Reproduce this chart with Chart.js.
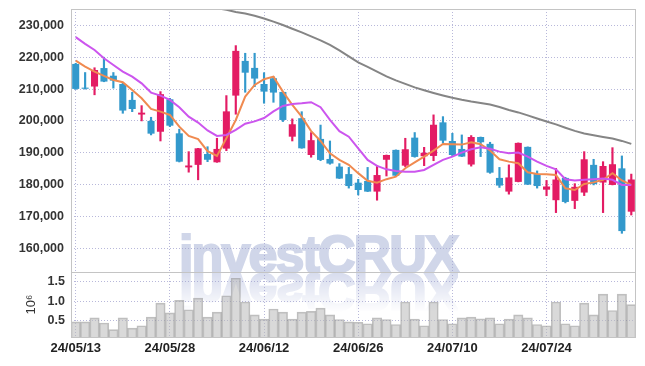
<!DOCTYPE html>
<html><head><meta charset="utf-8">
<script src="https://cdn.jsdelivr.net/npm/chart.js@4.4.1/dist/chart.umd.min.js"></script>
<style>
html,body{margin:0;padding:0;background:#fff;}
#wrap{position:relative;width:645px;height:366px;overflow:hidden;}
canvas{position:absolute;left:0;}
.wm{position:absolute;left:179px;font-family:'Liberation Sans',Arial,sans-serif;font-weight:bold;font-size:52px;line-height:52px;letter-spacing:-1.9px;white-space:nowrap;}
#wm1{top:228px;color:#d0d6e9;-webkit-text-stroke:2px #d0d6e9;}
#wm2{top:266px;color:#d8ddee;-webkit-text-stroke:2px #d8ddee;transform:scaleY(-1);-webkit-mask-image:linear-gradient(to top,rgba(0,0,0,1) 15%,rgba(0,0,0,0) 90%);mask-image:linear-gradient(to top,rgba(0,0,0,1) 15%,rgba(0,0,0,0) 90%);}
</style></head>
<body><div id="wrap">
<div class="wm" id="wm1">investCRUX</div>
<div class="wm" id="wm2">investCRUX</div>
<canvas id="main" width="645" height="274" style="top:0"></canvas>
<canvas id="vol" width="645" height="94" style="top:272px"></canvas>
</div>
<script>
const dates = ['24/05/13','24/05/14','24/05/16','24/05/17','24/05/20','24/05/21','24/05/22','24/05/23','24/05/24','24/05/27',
'24/05/28','24/05/29','24/05/30','24/05/31','24/06/03','24/06/04','24/06/05','24/06/07','24/06/10','24/06/11',
'24/06/12','24/06/13','24/06/14','24/06/17','24/06/18','24/06/19','24/06/20','24/06/21','24/06/24','24/06/25',
'24/06/26','24/06/27','24/06/28','24/07/01','24/07/02','24/07/03','24/07/04','24/07/05','24/07/08','24/07/09',
'24/07/10','24/07/11','24/07/12','24/07/15','24/07/16','24/07/17','24/07/18','24/07/19','24/07/22','24/07/23',
'24/07/24','24/07/25','24/07/26','24/07/29','24/07/30','24/07/31','24/08/01','24/08/02','24/08/05','24/08/06'];

const opens = [217900,210450,210800,216600,214200,211600,206600,202000,200000,196600,
206800,196100,185400,186200,189600,187000,191300,207950,218850,216650,
211600,213400,209100,195050,200850,189300,194350,188050,185650,183300,
180600,181150,177800,187800,190900,185950,194750,188900,189000,199550,
193700,191200,186300,194950,192800,182100,177800,180850,191850,183300,
178400,175100,182100,174900,177500,186200,180650,179900,185100,171500];
const highs = [218100,215200,216700,220000,215200,211850,209000,204800,201150,209200,
207100,197400,190350,191400,191900,194550,207950,223650,221250,221250,
215150,213900,209100,200650,202900,196350,198700,193700,186600,185400,
181650,185400,185950,189300,190900,194550,196350,191700,201900,201350,
196100,195600,195400,194950,193300,185400,186200,193100,191850,184300,
181300,185100,182300,180300,190350,187950,187200,191600,189000,183300];
const lows = [209900,210000,208200,212300,210300,202400,202900,200000,195600,193700,
198200,187100,183900,181500,187200,187000,190650,202100,209000,210750,
205550,205850,199800,193700,191400,188600,187500,186400,181900,178900,
176750,177800,175100,182700,182500,185650,188600,185950,187500,193000,
188800,188800,185800,188800,183550,179100,177000,180850,180000,178900,
176500,171200,174250,172450,176550,179900,171200,179900,164700,170450];
const closes = [210050,210100,216000,212350,212650,203250,203750,202600,196000,208400,
198500,187200,186000,191400,187800,191200,203000,222000,215150,213300,
209200,208900,200300,198950,191400,193950,187750,186600,181900,179550,
178300,177800,183000,189300,182800,191100,188700,190000,198800,193800,
189300,188800,194950,193300,183750,179700,182250,193100,180000,179550,
179400,181600,174550,179300,187950,180150,185850,186400,165400,181600];

const ma5 = [218930,217050,215480,214130,212870,212150,209730,207130,203770,202920,
201880,198210,195290,194300,190500,189000,194560,200300,207630,211300,
213090,213900,209200,205030,201350,196800,193700,189850,187750,186200,
183600,181200,180600,181700,182500,185150,187000,188800,190670,192780,
192680,192560,193300,192680,190700,187970,187220,186700,183870,183340,
183250,183030,178850,178300,180200,180700,181500,183600,181300,179900];
const ma20 = [226300,224220,222290,219690,217580,215480,213900,211800,208900,207940,
206600,204300,201350,199470,197000,195280,195600,197180,199140,199850,
200920,203000,204700,205330,205560,205870,204300,200300,196800,195050,
191400,187750,185880,184800,184270,184060,184060,184600,186200,187750,
188800,190050,191100,191730,191250,190360,189850,190050,188800,187220,
185870,184800,181700,181270,181500,181700,181900,181500,179900,179900];
const ma60 = [null,null,null,null,null,null,null,null,null,null,null,null,null,null,
236110,235390,234920,234220,233720,233030,232180,231180,230140,228950,227790,226530,225280,223860,222140,220250,
218370,216950,215480,213970,212720,211620,210520,209640,208790,208010,207280,206660,206120,205650,205180,204390,
203450,202670,201730,200780,199840,198900,197870,196860,196080,195510,194980,194500,193720,192780];

const volumes = [0.47,0.47,0.57,0.44,0.27,0.57,0.31,0.37,0.59,0.95,
0.70,1.02,0.78,1.08,0.59,0.72,1.14,1.59,0.98,0.65,
0.54,0.80,0.72,0.54,0.72,0.74,0.82,0.65,0.53,0.47,
0.46,0.42,0.57,0.53,0.40,0.98,0.54,0.37,0.98,0.53,
0.42,0.57,0.59,0.55,0.57,0.42,0.54,0.65,0.57,0.40,
0.37,0.98,0.42,0.37,0.95,0.65,1.18,0.76,1.18,0.91];

const priceTicks = [160000,170000,180000,190000,200000,210000,220000,230000];
const volTicks = [0.5,1.0,1.5];
const dateTickIdx = [0,10,20,30,40,50];

const UP = '#e31c64', DOWN = '#3399cc';
const FONT = "'Liberation Sans',Arial,sans-serif";
const GRID = 'rgba(160,160,205,0.75)';

const frame = {id:'frame', afterDatasetsDraw(c){
  const {ctx, chartArea:a} = c; ctx.save();
  ctx.strokeStyle = '#c4c4c4'; ctx.lineWidth = 1;
  ctx.strokeRect(Math.round(a.left)+0.5, Math.round(a.top)+0.5, Math.round(a.right-a.left)-1, Math.round(a.bottom-a.top));
  ctx.restore();
}};

const pts = arr => arr.map((v,i)=>({x:i, y:v}));
const candleColors = opens.map((o,i)=> closes[i] >= o ? UP : DOWN);
const noPad = s => { s.paddingTop = 0; s.paddingBottom = 0; s.paddingLeft = 0; s.paddingRight = 0; };

const xBase = {
  type:'linear', min:-0.5, max:59.5, offset:false,
  afterBuildTicks: s => { s.ticks = dateTickIdx.map(v=>({value:v})); },
  grid:{offset:false, color:GRID, drawTicks:false, lineWidth:1},
  border:{display:false, dash:[1,2]}
};

new Chart(document.getElementById('main'), {
  type:'bar',
  data:{datasets:[
    {type:'line', data:pts(ma60), borderColor:'#858585', borderWidth:2, pointRadius:0, order:0, clip:0},
    {type:'line', data:pts(ma20), borderColor:'#cc55ee', borderWidth:2, pointRadius:0, order:0, clip:0},
    {type:'line', data:pts(ma5), borderColor:'#f08a50', borderWidth:2, pointRadius:0, order:0, clip:0},
    {type:'bar', data:opens.map((o,i)=>({x:i, y:[o, closes[i]]})), backgroundColor:candleColors,
      barPercentage:0.75, categoryPercentage:1, grouped:false, order:1},
    {type:'bar', data:lows.map((l,i)=>({x:i, y:[l, highs[i]]})), backgroundColor:candleColors,
      barThickness:1.5, grouped:false, order:2}
  ]},
  options:{
    responsive:false, animation:false, events:[],
    layout:{padding:{top:9, right:9, left:0, bottom:2}},
    plugins:{legend:{display:false}, tooltip:{enabled:false}},
    scales:{
      x:Object.assign({}, xBase, {afterFit: s => { noPad(s); s.height = 0; }, ticks:{display:false}}),
      y:{min:152550, max:235150,
        afterBuildTicks: s => { s.ticks = priceTicks.map(v=>({value:v})); },
        afterFit: s => { noPad(s); s.width = 71; },
        ticks:{font:{family:FONT, size:12.5, weight:'bold'}, color:'#333', padding:7,
          callback: v => String(v).replace(/\B(?=(\d{3})+(?!\d))/g, ',')},
        grid:{color:GRID, drawTicks:false}, border:{display:false, dash:[1,2]}}
    }
  },
  plugins:[frame]
});

new Chart(document.getElementById('vol'), {
  type:'bar',
  data:{datasets:[
    {data:pts(volumes), backgroundColor:'rgba(185,185,185,0.55)', borderColor:'rgba(140,140,140,0.55)',
      borderWidth:1, barPercentage:1, categoryPercentage:1}
  ]},
  options:{
    responsive:false, animation:false, events:[],
    layout:{padding:{top:0, right:9, left:0, bottom:0}},
    plugins:{legend:{display:false}, tooltip:{enabled:false}},
    scales:{
      x:Object.assign({}, xBase, {afterFit: s => { noPad(s); s.height = 29; },
        ticks:{display:true, autoSkip:false, maxRotation:0, padding:4, color:'#222',
          font:{family:FONT, size:13, weight:'bold'}, callback: v => dates[v]}}),
      y:{min:0.08, max:1.75,
        afterBuildTicks: s => { s.ticks = volTicks.map(v=>({value:v})); },
        afterFit: s => { noPad(s); s.width = 71; },
        title:{display:true, text:'10⁶', color:'#333', font:{family:FONT, size:13}, padding:{top:24, bottom:0}},
        ticks:{font:{family:FONT, size:12.5, weight:'bold'}, color:'#333', padding:6, callback: v => v.toFixed(1)},
        grid:{color:GRID, drawTicks:false}, border:{display:false, dash:[1,2]}}
    }
  },
  plugins:[frame]
});
</script>
</body></html>
